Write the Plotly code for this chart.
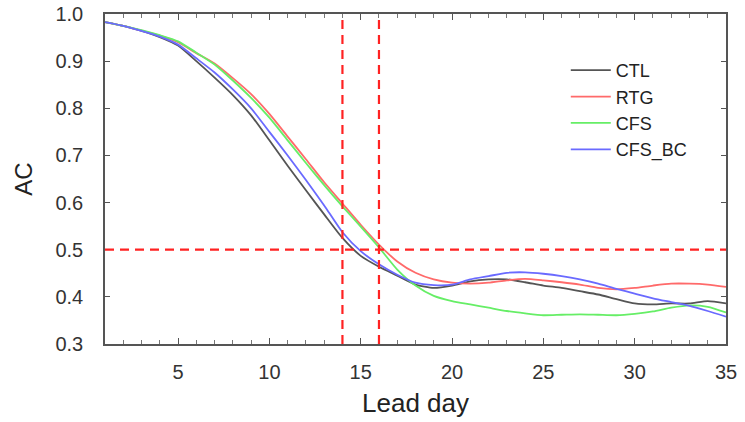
import plotly.graph_objects as go

days = list(range(1, 36))

ctl = [0.983, 0.975, 0.964, 0.951, 0.933, 0.900, 0.865, 0.828, 0.785, 0.732, 0.678,
       0.626, 0.575, 0.525, 0.487, 0.464, 0.445, 0.426, 0.419, 0.424, 0.433, 0.437,
       0.437, 0.431, 0.424, 0.419, 0.412, 0.405, 0.395, 0.386, 0.384, 0.386, 0.386,
       0.391, 0.386]
rtg = [0.983, 0.975, 0.965, 0.954, 0.940, 0.917, 0.895, 0.864, 0.830, 0.788, 0.740,
       0.692, 0.643, 0.598, 0.553, 0.511, 0.475, 0.451, 0.437, 0.430, 0.428, 0.430,
       0.435, 0.438, 0.435, 0.431, 0.426, 0.419, 0.416, 0.419, 0.424, 0.428, 0.428,
       0.426, 0.421]
cfs = [0.983, 0.975, 0.966, 0.955, 0.942, 0.918, 0.893, 0.859, 0.822, 0.780, 0.732,
       0.684, 0.637, 0.592, 0.549, 0.505, 0.458, 0.424, 0.402, 0.391, 0.384, 0.377,
       0.370, 0.365, 0.361, 0.362, 0.363, 0.362, 0.361, 0.364, 0.369, 0.377, 0.382,
       0.379, 0.367]
cfs_bc = [0.983, 0.975, 0.964, 0.952, 0.935, 0.906, 0.876, 0.840, 0.800, 0.750, 0.700,
          0.648, 0.594, 0.537, 0.497, 0.469, 0.447, 0.430, 0.425, 0.426, 0.437, 0.444,
          0.451, 0.452, 0.449, 0.444, 0.437, 0.428, 0.417, 0.407, 0.397, 0.389, 0.381,
          0.370, 0.358]

names = ["CTL", "RTG", "CFS", "CFS_BC"]
colors = ["#555555", "#ff6a6a", "#66ee66", "#6a6aff"]
series = [ctl, rtg, cfs, cfs_bc]

x_ticks = [5, 10, 15, 20, 25, 30, 35]
y_ticks = [0.3, 0.4, 0.5, 0.6, 0.7, 0.8, 0.9, 1.0]
ref_days = [14, 16]
ref_ac = 0.5

FONT = "Liberation Sans, Arial, sans-serif"

fig = go.Figure()
for n, c, s in zip(names, colors, series):
    fig.add_trace(go.Scatter(x=days, y=s, mode="lines", name=n,
                             line=dict(color=c, width=1.8, shape="spline", smoothing=0.6)))

for d in ref_days:
    fig.add_shape(type="line", xref="x", yref="y", x0=d, x1=d, y0=0.3, y1=1.0,
                  line=dict(color="#ff2222", width=2.2, dash="9px,6px"))
fig.add_shape(type="line", xref="x", yref="y", x0=1, x1=35, y0=ref_ac, y1=ref_ac,
              line=dict(color="#ff2222", width=2.2, dash="9px,6px"))

axis_common = dict(showline=True, linecolor="#555555", linewidth=1.5, mirror="ticks",
                   ticks="inside", tickcolor="#555555", showgrid=False, zeroline=False,
                   automargin=False, ticklabeloverflow="allow",
                   tickfont=dict(family=FONT, size=20, color="#333333"))

fig.update_xaxes(range=[1, 35], tickvals=x_ticks, ticklen=6, ticklabelstandoff=9,
                 minor=dict(dtick=1, tick0=0, ticks="inside", ticklen=4, tickcolor="#777777"),
                 title=dict(text="Lead day", font=dict(family=FONT, size=26, color="#222222"),
                            standoff=12),
                 **axis_common)
fig.update_yaxes(range=[0.3, 1.0], tickvals=y_ticks, tickformat=".1f", ticklen=5,
                 ticklabelstandoff=16,
                 title=dict(text="AC", font=dict(family=FONT, size=24, color="#222222"),
                            standoff=16),
                 **axis_common)

fig.update_layout(
    width=745, height=422,
    margin=dict(l=105, r=19, t=14, b=78),
    plot_bgcolor="white", paper_bgcolor="white",
    legend=dict(x=0.742, y=0.885, xanchor="left", yanchor="top",
                bgcolor="rgba(0,0,0,0)", tracegroupgap=0, itemwidth=40,
                font=dict(family=FONT, size=18, color="#222222")),
)

fig.write_html("out.html", config={"displayModeBar": False},
               post_script="document.body.style.margin='0';document.body.style.overflow='hidden';")
